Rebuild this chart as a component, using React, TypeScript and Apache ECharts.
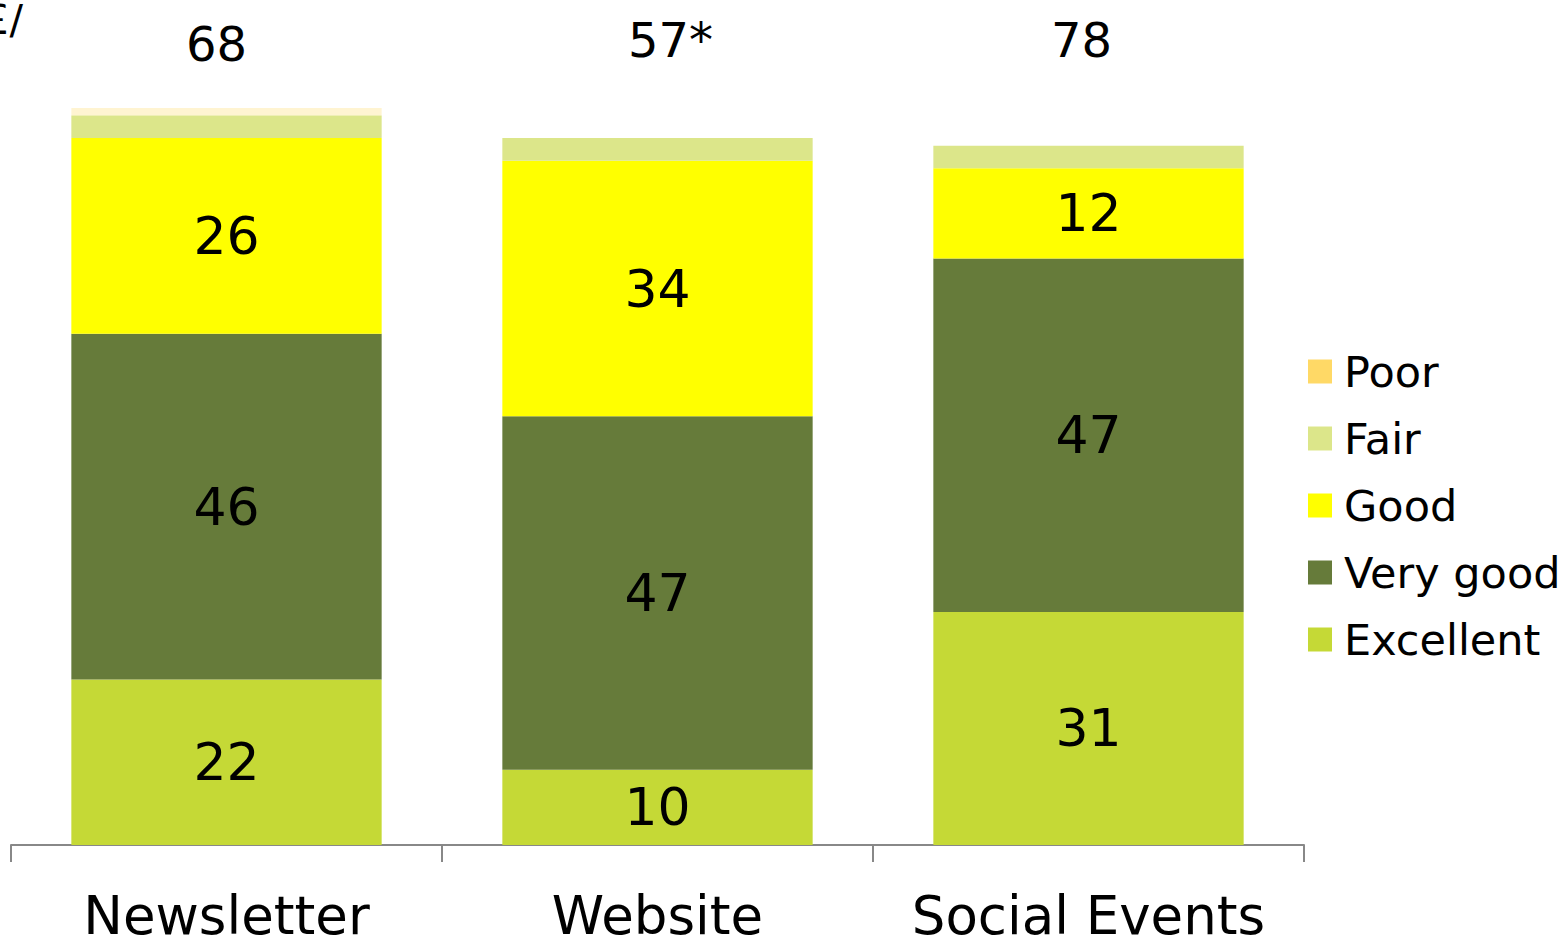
import React, { useEffect, useRef } from "react";
import * as echarts from "echarts";

const categories = ["Newsletter", "Website", "Social Events"];
const excellent = [22, 10, 31];
const veryGood = [46, 47, 47];
const good = [26, 34, 12];
const fair = [3, 3, 3];
const poor = [1, 0, 0];
const totals = [68, 57, 78];
const totalSuffix = ["", "*", ""];
const legendOrder = ["Poor", "Fair", "Good", "Very good", "Excellent"];

const FONT = "DejaVu Sans";

export default function App() {
  const ref = useRef<HTMLDivElement>(null);
  useEffect(() => {
    if (!ref.current) return;
    const chart = echarts.init(ref.current, null, { renderer: "svg" });
    const barLabel = {
      show: true,
      position: "inside",
      color: "#000",
      fontFamily: FONT,
      fontSize: 52,
    };
    const mk = (name: string, data: any[], color: string, label: boolean) => ({
      name,
      type: "bar",
      stack: "s",
      barWidth: "72%",
      data,
      itemStyle: { color },
      label: label ? barLabel : { show: false },
      emphasis: { disabled: true },
    });
    const topOffsets = [[-10, 4], [13, 0], [-7, 0]];
    chart.setOption({
      animation: false,
      textStyle: { fontFamily: FONT },
      grid: { left: 11, right: 262, top: 93, bottom: 100 },
      legend: {
        data: legendOrder,
        orient: "vertical",
        left: 1303,
        top: 345,
        itemWidth: 24,
        itemHeight: 24,
        itemGap: 24,
        icon: "rect",
        selectedMode: false,
        textStyle: {
          fontFamily: FONT,
          fontSize: 43,
          color: "#000",
          lineHeight: 43,
          padding: [0, 0, 0, 7],
        },
      },
      xAxis: {
        type: "category",
        data: categories,
        axisLine: { lineStyle: { color: "#888", width: 2 } },
        axisTick: { show: true, interval: 0, length: 17, lineStyle: { color: "#888", width: 2 } },
        axisLabel: { interval: 0, color: "#000", fontFamily: FONT, fontSize: 53, margin: 44 },
      },
      yAxis: {
        type: "value",
        min: 0,
        max: 100,
        show: false,
        splitLine: { show: false },
      },
      graphic: [
        {
          type: "text",
          left: -16,
          top: 0,
          style: { text: "£/", fontFamily: FONT, fontSize: 40, fill: "#000" },
        },
      ],
      series: [
        mk("Excellent", excellent, "#C5D936", true),
        mk("Very good", veryGood, "#667B3A", true),
        mk("Good", good, "#FFFF00", true),
        mk("Fair", fair, "#DCE68A", false),
        mk(
          "Poor",
          poor.map((v) => ({ value: v, itemStyle: { opacity: 0.3 } })),
          "#FFD966",
          false
        ),
        {
          type: "scatter",
          symbolSize: 1,
          itemStyle: { color: "rgba(0,0,0,0)", opacity: 1 },
          clip: false,
          silent: true,
          label: {
            show: true,
            position: "inside",
            color: "#000",
            fontFamily: FONT,
            fontSize: 48,
            formatter: (p: any) => String(totals[p.dataIndex]) + totalSuffix[p.dataIndex],
          },
          data: totals.map((v, i) => ({
            value: [categories[i], 107],
            label: { offset: topOffsets[i] },
          })),
        },
      ],
    });
    return () => chart.dispose();
  }, []);
  return (
    <div
      ref={ref}
      style={{ position: "fixed", left: 0, top: 0, width: 1566, height: 945, background: "#fff" }}
    />
  );
}
